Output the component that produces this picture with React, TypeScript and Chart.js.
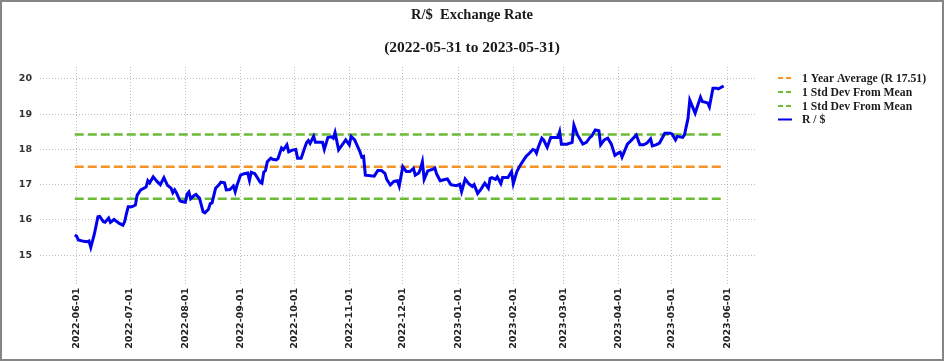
import React, { useEffect, useRef } from "react";
import { Chart, registerables } from "chart.js";

Chart.register(...registerables);

const chartTitle = "R/$  Exchange Rate";
const chartSubtitle = "(2022-05-31 to 2023-05-31)";

const dates = [
  "2022-05-31", "2022-06-01", "2022-06-02", "2022-06-05", "2022-06-07", "2022-06-08", "2022-06-09", "2022-06-11",
  "2022-06-13", "2022-06-14", "2022-06-16", "2022-06-17", "2022-06-19", "2022-06-20", "2022-06-22", "2022-06-25",
  "2022-06-27", "2022-06-28", "2022-06-29", "2022-06-30", "2022-07-02", "2022-07-04", "2022-07-05", "2022-07-07",
  "2022-07-10", "2022-07-11", "2022-07-12", "2022-07-14", "2022-07-16", "2022-07-18", "2022-07-20", "2022-07-22",
  "2022-07-24", "2022-07-25", "2022-07-26", "2022-07-27", "2022-07-29", "2022-07-30", "2022-08-01", "2022-08-02",
  "2022-08-03", "2022-08-04", "2022-08-06", "2022-08-07", "2022-08-09", "2022-08-10", "2022-08-11", "2022-08-12",
  "2022-08-14", "2022-08-15", "2022-08-16", "2022-08-18", "2022-08-20", "2022-08-21", "2022-08-23", "2022-08-24",
  "2022-08-26", "2022-08-28", "2022-08-29", "2022-08-30", "2022-09-01", "2022-09-03", "2022-09-05", "2022-09-06",
  "2022-09-07", "2022-09-09", "2022-09-12", "2022-09-13", "2022-09-14", "2022-09-15", "2022-09-16", "2022-09-18",
  "2022-09-19", "2022-09-21", "2022-09-22", "2022-09-23", "2022-09-24", "2022-09-25", "2022-09-27", "2022-09-28",
  "2022-09-30", "2022-10-02", "2022-10-03", "2022-10-05", "2022-10-07", "2022-10-08", "2022-10-09", "2022-10-10",
  "2022-10-12", "2022-10-13", "2022-10-17", "2022-10-18", "2022-10-20", "2022-10-22", "2022-10-23", "2022-10-24",
  "2022-10-26", "2022-10-28", "2022-10-30", "2022-11-01", "2022-11-02", "2022-11-04", "2022-11-07", "2022-11-08",
  "2022-11-09", "2022-11-10", "2022-11-13", "2022-11-15", "2022-11-17", "2022-11-19", "2022-11-21", "2022-11-22",
  "2022-11-24", "2022-11-26", "2022-11-28", "2022-11-29", "2022-12-01", "2022-12-03", "2022-12-05", "2022-12-07",
  "2022-12-08", "2022-12-10", "2022-12-11", "2022-12-12", "2022-12-13", "2022-12-15", "2022-12-18", "2022-12-19",
  "2022-12-20", "2022-12-22", "2022-12-24", "2022-12-26", "2022-12-28", "2022-12-31", "2023-01-02", "2023-01-03",
  "2023-01-05", "2023-01-07", "2023-01-09", "2023-01-10", "2023-01-12", "2023-01-14", "2023-01-16", "2023-01-18",
  "2023-01-19", "2023-01-20", "2023-01-22", "2023-01-23", "2023-01-25", "2023-01-26", "2023-01-29", "2023-01-31",
  "2023-02-01", "2023-02-03", "2023-02-05", "2023-02-08", "2023-02-10", "2023-02-12", "2023-02-13", "2023-02-14",
  "2023-02-15", "2023-02-17", "2023-02-18", "2023-02-20", "2023-02-22", "2023-02-24", "2023-02-26", "2023-02-27",
  "2023-02-28", "2023-03-03", "2023-03-06", "2023-03-07", "2023-03-09", "2023-03-12", "2023-03-14", "2023-03-16",
  "2023-03-17", "2023-03-19", "2023-03-21", "2023-03-22", "2023-03-24", "2023-03-26", "2023-03-28", "2023-03-30",
  "2023-04-01", "2023-04-02", "2023-04-03", "2023-04-06", "2023-04-08", "2023-04-11", "2023-04-13", "2023-04-15",
  "2023-04-17", "2023-04-19", "2023-04-20", "2023-04-22", "2023-04-24", "2023-04-27", "2023-04-30", "2023-05-01",
  "2023-05-03", "2023-05-04", "2023-05-07", "2023-05-08", "2023-05-10", "2023-05-11", "2023-05-14", "2023-05-17",
  "2023-05-18", "2023-05-21", "2023-05-22", "2023-05-24", "2023-05-26", "2023-05-27", "2023-05-30",
];

const rates = [
  15.57, 15.54, 15.43, 15.39, 15.38, 15.40, 15.22, 15.60,
  16.09, 16.10, 15.95, 15.93, 16.05, 15.93, 16.01, 15.90,
  15.85, 15.95, 16.18, 16.37, 16.37, 16.42, 16.70, 16.85,
  16.93, 17.11, 17.05, 17.22, 17.10, 17.00, 17.20, 16.98,
  16.90, 16.77, 16.85, 16.77, 16.54, 16.52, 16.50, 16.73,
  16.79, 16.60, 16.69, 16.72, 16.61, 16.42, 16.23, 16.20,
  16.30, 16.46, 16.48, 16.90, 17.00, 17.07, 17.05, 16.85,
  16.86, 16.96, 16.80, 16.98, 17.27, 17.31, 17.33, 17.12,
  17.35, 17.31, 17.07, 17.04, 17.35, 17.40, 17.65, 17.75,
  17.72, 17.70, 17.74, 17.89, 18.04, 17.99, 18.13, 17.93,
  17.98, 18.00, 17.75, 17.75, 18.05, 18.19, 18.25, 18.17,
  18.37, 18.20, 18.20, 18.00, 18.34, 18.36, 18.32, 18.48,
  17.99, 18.13, 18.27, 18.13, 18.37, 18.27, 17.93, 17.78,
  17.80, 17.27, 17.25, 17.24, 17.40, 17.40, 17.32, 17.15,
  16.99, 17.09, 17.11, 16.96, 17.51, 17.37, 17.37, 17.46,
  17.27, 17.33, 17.46, 17.65, 17.15, 17.39, 17.44, 17.47,
  17.30, 17.11, 17.14, 17.16, 17.00, 16.97, 17.01, 16.80,
  17.16, 17.03, 16.95, 17.00, 16.75, 16.88, 17.04, 16.90,
  17.18, 17.20, 17.15, 17.22, 17.03, 17.20, 17.20, 17.37,
  17.03, 17.37, 17.56, 17.79, 17.89, 18.00, 17.98, 17.89,
  18.06, 18.32, 18.27, 18.06, 18.34, 18.34, 18.34, 18.50,
  18.15, 18.15, 18.20, 18.69, 18.41, 18.15, 18.20, 18.34,
  18.38, 18.55, 18.53, 18.13, 18.27, 18.32, 18.15, 17.83,
  17.90, 17.92, 17.78, 18.15, 18.25, 18.41, 18.13, 18.13,
  18.18, 18.30, 18.10, 18.13, 18.18, 18.46, 18.46, 18.44,
  18.27, 18.37, 18.34, 18.41, 18.88, 19.40, 19.03, 19.48,
  19.36, 19.32, 19.21, 19.74, 19.74, 19.72, 19.80,
];

const avgRate = 17.51;
const upperStd = 18.42;
const lowerStd = 16.6;

const avgLabel = "1 Year Average (R 17.51)";
const stdLabel = "1 Std Dev From Mean";
const seriesLabel = "R / $";

const xTickLabels = [
  "2022-06-01", "2022-07-01", "2022-08-01", "2022-09-01", "2022-10-01", "2022-11-01", "2022-12-01",
  "2023-01-01", "2023-02-01", "2023-03-01", "2023-04-01", "2023-05-01", "2023-06-01",
];
const yTickValues = [15, 16, 17, 18, 19, 20];

const BLUE = "#0000ee";
const ORANGE = "#f39424";
const GREEN = "#6cbb38";

const toDay = (s: string) =>
  Date.UTC(+s.slice(0, 4), +s.slice(5, 7) - 1, +s.slice(8, 10)) / 86400000;

const overlayPlugin = {
  id: "overlay",
  afterDraw(chart: any) {
    const ctx = chart.ctx as CanvasRenderingContext2D;
    ctx.save();
    ctx.fillStyle = "#1a1a1a";
    ctx.textAlign = "center";
    ctx.textBaseline = "middle";
    ctx.font = "bold 14.5px 'Liberation Serif', serif";
    ctx.fillText(chartTitle, 472, 15);
    ctx.font = "bold 15.5px 'Liberation Serif', serif";
    ctx.fillText(chartSubtitle, 472, 48);

    const items = [
      { label: avgLabel, color: ORANGE, dash: [5, 3] },
      { label: stdLabel, color: GREEN, dash: [5, 3] },
      { label: stdLabel, color: GREEN, dash: [5, 3] },
      { label: seriesLabel, color: BLUE, dash: [] as number[] },
    ];
    const x0 = 778;
    const x1 = 792;
    const tx = 802;
    const ys = [78, 92, 106, 119.5];
    ctx.textAlign = "left";
    ctx.font = "bold 11.7px 'Liberation Serif', serif";
    items.forEach((it, i) => {
      ctx.beginPath();
      ctx.setLineDash(it.dash);
      ctx.strokeStyle = it.color;
      ctx.lineWidth = 2;
      ctx.moveTo(x0, ys[i]);
      ctx.lineTo(x1, ys[i]);
      ctx.stroke();
      ctx.setLineDash([]);
      ctx.fillStyle = "#1a1a1a";
      ctx.fillText(it.label, tx, ys[i] + 0.5);
    });
    ctx.restore();
  },
};

export default function App() {
  const ref = useRef<HTMLCanvasElement | null>(null);

  useEffect(() => {
    document.body.style.margin = "0";
    const canvas = ref.current;
    if (!canvas) return;

    const first = toDay(dates[0]);
    const last = toDay(dates[dates.length - 1]);
    const series = dates.map((d, i) => ({ x: toDay(d), y: rates[i] }));
    const flat = (v: number) => [
      { x: first, y: v },
      { x: last, y: v },
    ];

    const gridCommon = {
      color: "rgba(170,170,170,0.75)",
      lineWidth: 1,
      drawTicks: false,
    };
    const borderCommon = { display: false, dash: [1, 2] };

    const chart = new Chart(canvas, {
      type: "line",
      data: {
        datasets: [
          {
            label: seriesLabel,
            data: series,
            borderColor: BLUE,
            borderWidth: 3,
            pointRadius: 0,
            tension: 0,
            order: 0,
          },
          {
            label: avgLabel,
            data: flat(avgRate),
            borderColor: ORANGE,
            borderWidth: 2.5,
            borderDash: [9, 4],
            pointRadius: 0,
            order: 1,
          },
          {
            label: stdLabel,
            data: flat(upperStd),
            borderColor: GREEN,
            borderWidth: 2.5,
            borderDash: [9, 4],
            pointRadius: 0,
            order: 1,
          },
          {
            label: stdLabel,
            data: flat(lowerStd),
            borderColor: GREEN,
            borderWidth: 2.5,
            borderDash: [9, 4],
            pointRadius: 0,
            order: 1,
          },
        ],
      },
      options: {
        responsive: false,
        animation: false,
        devicePixelRatio: 1,
        parsing: false,
        normalized: true,
        layout: { padding: { left: 0, right: 187, top: 67, bottom: 0 } },
        plugins: {
          legend: { display: false },
          title: { display: false },
          tooltip: { enabled: false },
        },
        scales: {
          x: {
            type: "linear",
            min: first - 19.5,
            max: first + 382.7,
            border: borderCommon,
            grid: gridCommon,
            ticks: {
              autoSkip: false,
              minRotation: 90,
              maxRotation: 90,
              padding: 3,
              color: "#222",
              font: { family: "'DejaVu Sans', sans-serif", size: 9.5, weight: "bold" },
              callback: (v: any) => {
                const idx = xTickLabels.findIndex((s) => toDay(s) === v);
                return idx >= 0 ? xTickLabels[idx] : "";
              },
            },
            afterBuildTicks: (scale: any) => {
              scale.ticks = xTickLabels.map((s) => ({ value: toDay(s) }));
            },
            afterFit: (scale: any) => {
              scale.height = 76;
            },
          },
          y: {
            type: "linear",
            min: 14.15,
            max: 20.34,
            border: borderCommon,
            grid: gridCommon,
            ticks: {
              padding: 8,
              color: "#333",
              font: { family: "'DejaVu Sans', sans-serif", size: 9.5, weight: "bold" },
              callback: (v: any) => String(v),
            },
            afterBuildTicks: (scale: any) => {
              scale.ticks = yTickValues.map((v) => ({ value: v }));
            },
            afterFit: (scale: any) => {
              scale.width = 40;
            },
          },
        },
      } as any,
      plugins: [overlayPlugin],
    });

    return () => chart.destroy();
  }, []);

  return (
    <div style={{ position: "relative", width: 944, height: 361, background: "#fff" }}>
      <canvas ref={ref} width={944} height={361} style={{ display: "block" }} />
      <div
        style={{
          position: "absolute",
          inset: 0,
          border: "2px solid #858585",
          boxSizing: "border-box",
          pointerEvents: "none",
        }}
      />
    </div>
  );
}
